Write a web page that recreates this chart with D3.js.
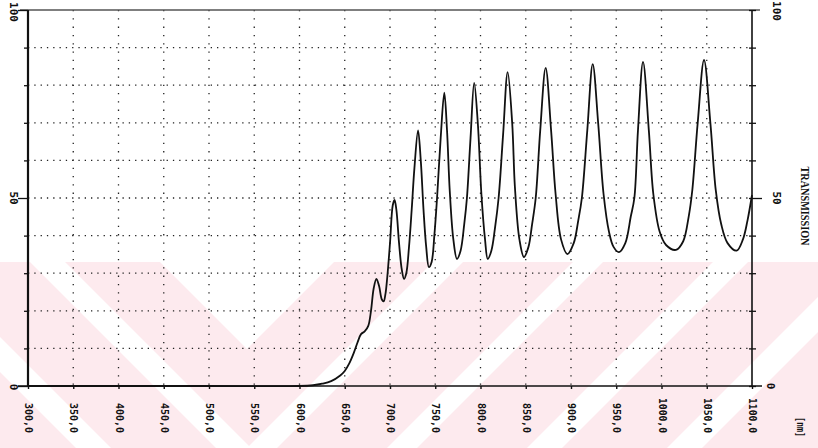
<!DOCTYPE html>
<html>
<head>
<meta charset="utf-8">
<script src="https://cdn.jsdelivr.net/npm/d3@7"></script>
<style>
  body { margin: 0; background: #fff; }
  svg { display: block; }
</style>
</head>
<body>
<div id="chart"></div>
<script>

// *** DATA ***

//Spectrum (nm, % transmission)
let wavelength = [300, 400, 500, 600, 615, 625, 635, 645, 650, 655, 660, 664, 668, 672, 676, 679, 682, 685, 688, 691, 693, 695, 697, 700, 703, 705, 707, 710, 713, 715.5, 718, 721, 724, 727, 731, 734, 737, 740, 743, 746, 749, 752, 756, 760, 763, 766, 770, 774, 778, 782, 785, 789, 793, 797, 801, 805, 808, 812, 816, 820, 825, 830, 835, 838, 843, 848, 853, 857, 861, 866, 872, 878, 883, 889, 896, 903, 908, 912, 918, 924, 930, 936, 942, 947, 953, 960, 966, 970, 974, 979.6, 986, 991, 998, 1005, 1016, 1024, 1030, 1034, 1040, 1047, 1054, 1060, 1066, 1073, 1083, 1090, 1095, 1100];
let transmission = [0, 0, 0, 0, 0.2, 0.6, 1.3, 2.8, 4, 6, 8.8, 11.5, 13.8, 14.5, 16, 20, 26, 28.5, 26.5, 23, 22.5, 24.5, 29, 38, 48, 49.5, 47, 38, 31, 28.5, 30, 37, 47, 58, 68, 60, 47, 37, 31.6, 33, 40, 50, 66, 78, 68, 52, 39, 33.8, 36, 43, 50, 66, 80.6, 70, 51, 39, 33.8, 36, 42, 50, 67, 83.5, 70, 53, 39, 34.3, 37, 43, 50, 68, 84.6, 68, 51, 39, 35.1, 38, 44, 50, 68, 85.6, 70, 51, 41, 37, 35.6, 38, 45, 50, 68, 86.2, 68, 51, 41, 37.5, 36.2, 38.5, 45, 52, 70, 86.7, 70, 52, 43, 38, 36, 39, 44, 50.8];

//Axis values
let xTicks = [300, 350, 400, 450, 500, 550, 600, 650, 700, 750, 800, 850, 900, 950, 1000, 1050, 1100];
let yTicks = [0, 10, 20, 30, 40, 50, 60, 70, 80, 90, 100];
let yLabels = [0, 50, 100];
let yTitle = "TRANSMISSION";
let xUnit = "[nm]";

// *** SETTINGS ***

let width = 818, height = 448;
let plot = {left: 28, right: 752, top: 10, bottom: 386};
let pink = "#fdeaee";
let ink = "#111";
let monoFont = "'DejaVu Sans Mono', 'Liberation Mono', monospace";

let svg = d3.select("#chart").append("svg")
  .attr("width", width)
  .attr("height", height);

let x = d3.scaleLinear().domain([300, 1100]).range([plot.left, plot.right]);
let y = d3.scaleLinear().domain([0, 100]).range([plot.bottom, plot.top]);

//Background watermark (pink band with white diagonal stripes)
let wm = svg.append("g").attr("class", "watermark");
let wTop = 262, wBot = height;
wm.append("rect")
  .attr("x", 0).attr("y", wTop)
  .attr("width", width).attr("height", wBot - wTop)
  .attr("fill", pink);

//"\" stripes: x - y in [a, b]
[[-372, -337], [-232, -197]].forEach(([a, b]) => {
  wm.append("polygon")
    .attr("points", [[a + wTop, wTop], [b + wTop, wTop], [b + wBot, wBot], [a + wBot, wBot]].join(" "))
    .attr("fill", "#fff");
});
//"/" stripes: x + y in [a, b]
[[695, 725], [835, 865], [975, 1010], [1115, 1150]].forEach(([a, b]) => {
  wm.append("polygon")
    .attr("points", [[a - wTop, wTop], [b - wTop, wTop], [b - wBot, wBot], [a - wBot, wBot]].join(" "))
    .attr("fill", "#fff");
});
//V notch
wm.append("polygon")
  .attr("points", [[-102 + wTop, wTop], [596 - wTop, wTop], [247, 349]].join(" "))
  .attr("fill", "#fff");

//Dotted grid
let grid = svg.append("g").attr("class", "grid")
  .attr("stroke", "#222")
  .attr("stroke-width", 1.3);

grid.selectAll("line.v")
  .data(xTicks.slice(1, -1))
  .enter()
  .append("line")
    .attr("class", "v")
    .attr("x1", d => x(d)).attr("x2", d => x(d))
    .attr("y1", y(100)).attr("y2", y(0))
    .attr("stroke-dasharray", "1.3,7");

grid.selectAll("line.h")
  .data(yTicks.slice(1, -1))
  .enter()
  .append("line")
    .attr("class", "h")
    .attr("x1", x(300)).attr("x2", x(1100))
    .attr("y1", d => y(d)).attr("y2", d => y(d))
    .attr("stroke-dasharray", "1.3,5");

//Frame
svg.append("line")
  .attr("x1", plot.left - 8).attr("x2", plot.right + 8)
  .attr("y1", plot.top).attr("y2", plot.top)
  .attr("stroke", "#555").attr("stroke-width", 1.5);
svg.append("line")
  .attr("x1", plot.left).attr("x2", plot.left)
  .attr("y1", plot.top).attr("y2", plot.bottom)
  .attr("stroke", ink).attr("stroke-width", 2.2);
svg.append("line")
  .attr("x1", plot.right).attr("x2", plot.right)
  .attr("y1", plot.top).attr("y2", plot.bottom)
  .attr("stroke", ink).attr("stroke-width", 1.6);

//X axis
let xAxis = d3.axisBottom(x)
  .tickValues(xTicks)
  .tickSize(3)
  .tickFormat(d => d3.format(".1f")(d).replace(".", ","));

let gx = svg.append("g")
  .attr("transform", `translate(0,${y(0)})`)
  .call(xAxis);

gx.select(".domain")
  .attr("d", `M${plot.left - 10},0H${plot.right + 10}`)
  .attr("stroke", ink)
  .attr("stroke-width", 1.6);
gx.selectAll(".tick line").attr("stroke", ink).attr("stroke-width", 1.4);
gx.selectAll(".tick text")
  .attr("y", 0)
  .attr("dy", null)
  .attr("transform", "translate(0,47) rotate(90)")
  .attr("text-anchor", "end")
  .attr("dominant-baseline", "central")
  .attr("textLength", d => d >= 1000 ? 35 : 30)
  .attr("lengthAdjust", "spacingAndGlyphs")
  .style("font-family", monoFont)
  .style("font-weight", "bold")
  .style("font-size", "11px")
  .attr("fill", ink);

//Y axes (ticks only)
let yLeft = d3.axisLeft(y).tickValues(yTicks).tickSize(4).tickFormat("");
let gyl = svg.append("g")
  .attr("transform", `translate(${plot.left},0)`)
  .call(yLeft);
gyl.select(".domain").remove();
gyl.selectAll(".tick line")
  .attr("x2", d => yLabels.includes(d) ? -10 : -4)
  .attr("stroke", ink).attr("stroke-width", 1.3);

let yRight = d3.axisRight(y).tickValues(yTicks).tickSize(4).tickFormat("");
let gyr = svg.append("g")
  .attr("transform", `translate(${plot.right},0)`)
  .call(yRight);
gyr.select(".domain").remove();
gyr.selectAll(".tick line")
  .attr("x1", -3)
  .attr("x2", d => d === 50 ? 10 : 4)
  .attr("stroke", ink).attr("stroke-width", 1.3);

//Y labels, rotated like the printout
let labelStyle = sel => sel
  .attr("text-anchor", "middle")
  .attr("dominant-baseline", "central")
  .style("font-family", monoFont)
  .style("font-weight", "bold")
  .style("font-size", "11px")
  .attr("fill", ink);

svg.append("g").selectAll("text")
  .data(yLabels)
  .enter()
  .append("text")
    .attr("transform", d => `translate(${plot.left - 15},${y(d) + (d === 100 ? 2 : d === 0 ? 1 : 0)}) rotate(90)`)
    .text(d => d)
    .call(labelStyle);

svg.append("g").selectAll("text")
  .data(yLabels)
  .enter()
  .append("text")
    .attr("transform", d => `translate(${plot.right + (d === 0 ? 18 : 24)},${y(d) + (d === 100 ? 1 : 0)}) rotate(90)`)
    .text(d => d)
    .call(labelStyle);

//Axis titles
svg.append("text")
  .attr("transform", `translate(805,${y(50) + 8}) rotate(90)`)
  .attr("text-anchor", "middle")
  .attr("dominant-baseline", "central")
  .attr("textLength", 79)
  .attr("lengthAdjust", "spacingAndGlyphs")
  .style("font-family", "'Liberation Serif', 'DejaVu Serif', serif")
  .style("font-weight", "bold")
  .style("font-size", "12px")
  .attr("fill", ink)
  .text(yTitle);

svg.append("text")
  .attr("transform", `translate(800,${y(0) + 41}) rotate(90)`)
  .attr("text-anchor", "middle")
  .attr("dominant-baseline", "central")
  .attr("textLength", 20)
  .attr("lengthAdjust", "spacingAndGlyphs")
  .style("font-family", monoFont)
  .style("font-weight", "bold")
  .style("font-size", "10px")
  .attr("fill", ink)
  .text(xUnit);

//Spectrum
let line = d3.line()
  .x((d, i) => x(wavelength[i]))
  .y(d => y(d))
  .curve(d3.curveCatmullRom.alpha(0.5));

svg.append("path")
  .datum(transmission)
  .attr("d", line)
  .attr("fill", "none")
  .attr("stroke", ink)
  .attr("stroke-width", 1.8)
  .attr("stroke-linejoin", "round");

</script>
</body>
</html>
